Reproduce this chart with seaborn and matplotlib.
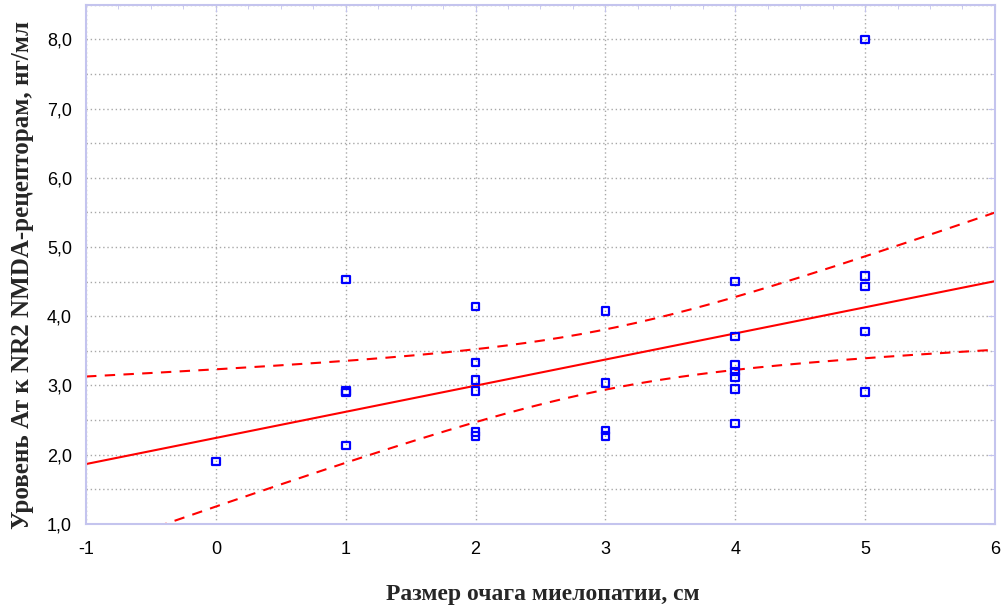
import numpy as np
import pandas as pd
import matplotlib
matplotlib.use("Agg")
import matplotlib.pyplot as plt
import seaborn as sns
from matplotlib.ticker import MultipleLocator, FuncFormatter

# размер очага (см) и уровень АТ (нг/мл)
size_cm = [0,
           1, 1, 1, 1,
           2, 2, 2, 2, 2, 2,
           3, 3, 3, 3,
           4, 4, 4, 4, 4, 4, 4,
           5, 5, 5, 5, 5]
level = [1.90,
         4.53, 2.92, 2.90, 2.13,
         4.14, 3.33, 3.08, 2.92, 2.33, 2.27,
         4.08, 3.04, 2.35, 2.27,
         4.50, 3.71, 3.30, 3.20, 3.12, 2.95, 2.45,
         8.00, 4.58, 4.43, 3.78, 2.91]

x_ticks = [-1, 0, 1, 2, 3, 4, 5, 6]
y_ticks = [1, 2, 3, 4, 5, 6, 7, 8]

df = pd.DataFrame({"x": size_cm, "y": level})

# linear fit + 95% confidence band for the mean
x = np.array(size_cm, float)
y = np.array(level, float)
n = len(x)
b, a = np.polyfit(x, y, 1)
resid = y - (a + b * x)
s = np.sqrt((resid ** 2).sum() / (n - 2))
sxx = ((x - x.mean()) ** 2).sum()
t = 2.0595  # t(0.975, 25)
xs = np.linspace(-1, 6, 200)
fit = a + b * xs
hw = t * s * np.sqrt(1 / n + (xs - x.mean()) ** 2 / sxx)
band = pd.DataFrame({"x": xs, "fit": fit, "lo": fit - hw, "hi": fit + hw})

sns.set_style("white")
plt.rcParams["axes.unicode_minus"] = False
fig, ax = plt.subplots(figsize=(10.06, 6.12), dpi=100)
fig.subplots_adjust(left=0.0855, right=0.989, top=0.992, bottom=0.144)

sns.lineplot(data=band, x="x", y="fit", color="red", lw=1.5, ax=ax)
sns.lineplot(data=band, x="x", y="lo", color="red", lw=1.5, ax=ax, linestyle=(0, (5, 4)))
sns.lineplot(data=band, x="x", y="hi", color="red", lw=1.5, ax=ax, linestyle=(0, (5, 4)))
sns.scatterplot(data=df, x="x", y="y", marker="s", s=30, facecolor="none",
                edgecolor="blue", linewidth=1.6, ax=ax, zorder=5)

ax.set_xlim(-1, 6)
ax.set_ylim(1, 8.5)
ax.set_xticks(x_ticks)
ax.set_yticks(y_ticks)
ax.yaxis.set_minor_locator(MultipleLocator(0.5))
ax.xaxis.set_minor_locator(MultipleLocator(0.25))
ax.yaxis.set_major_formatter(FuncFormatter(lambda v, p: f"{v:.1f}".replace(".", ",")))
ax.grid(True, which="major", color="#a8a8a8", linestyle=(0, (1, 2)), lw=1)
ax.grid(True, which="minor", axis="y", color="#a8a8a8", linestyle=(0, (1, 2)), lw=1)

frame = "#c4c4ee"
for sp in ax.spines.values():
    sp.set_color(frame)
    sp.set_linewidth(1.5)
ax.tick_params(which="both", direction="in", color=frame, labelsize=13,
               top=True, right=True, labelcolor="black")
ax.tick_params(which="major", length=5)
ax.tick_params(which="minor", length=3)
ax.tick_params(axis="x", pad=12)
ax.tick_params(axis="y", pad=10)
for lab in ax.get_xticklabels() + ax.get_yticklabels():
    lab.set_family(["Liberation Sans", "DejaVu Sans"])

ax.set_xlabel("Размер очага миелопатии, см", family=["Liberation Serif", "DejaVu Serif"],
              fontsize=17, fontweight="bold")
ax.set_ylabel("Уровень Ат к NR2 NMDA-рецепторам, нг/мл", family=["Liberation Serif", "DejaVu Serif"],
              fontsize=18, fontweight="bold")
ax.xaxis.label.set_va("center")
ax.yaxis.label.set_va("center")
ax.xaxis.set_label_coords(0.503, -0.137)
ax.yaxis.set_label_coords(-0.0704, 0.48)

fig.savefig("out.png", dpi=100)
